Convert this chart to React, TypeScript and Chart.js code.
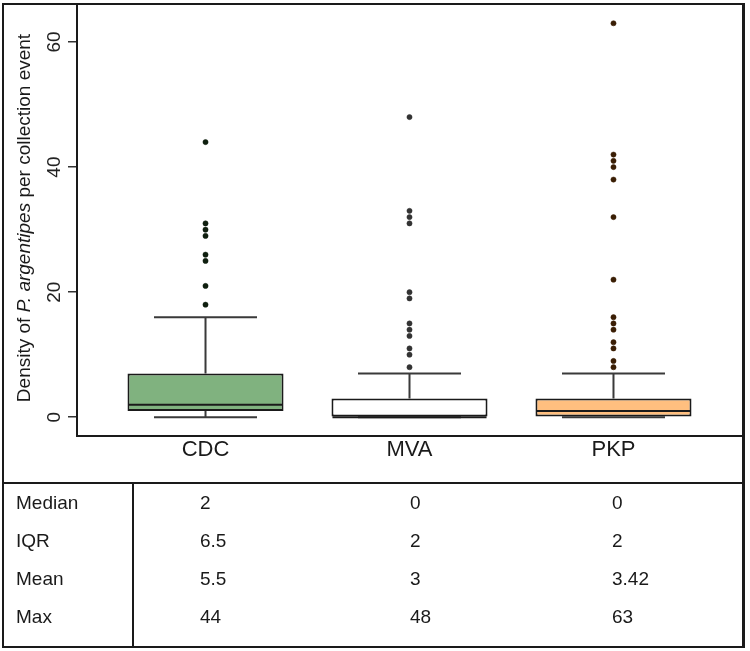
import React, { useEffect, useRef } from "react";
import { Chart, registerables } from "chart.js";

Chart.register(...registerables);

// ---- data ----
const categories = ["CDC", "MVA", "PKP"];
const categoryPos = [1, 2, 3];
const q1 = [1, 0, 0];
const q3 = [7, 3, 3];
const medians = [2, 0, 1];
const whiskerLow = [0, 0, 0];
const whiskerHigh = [16, 7, 7];
const outliersCDC = [18, 21, 25, 26, 29, 30, 31, 44];
const outliersMVA = [8, 10, 11, 13, 14, 15, 19, 20, 31, 32, 33, 48];
const outliersPKP = [8, 9, 11, 12, 14, 15, 16, 22, 32, 38, 40, 41, 42, 63];
const yTickValues = [0, 20, 40, 60];
const tableRowLabels = ["Median", "IQR", "Mean", "Max"];
const tableMedian = ["2", "0", "0"];
const tableIQR = ["6.5", "2", "2"];
const tableMean = ["5.5", "3", "3.42"];
const tableMax = ["44", "48", "63"];

const boxFills = ["#80b27f", "#ffffff", "#ffbf7f"];
const outlierColors = ["#0f1f0f", "#333333", "#3a1e05"];
const FONT = "'Liberation Sans', Arial, Helvetica, sans-serif";

const boxPlugin = {
  id: "boxWhiskers",
  beforeDatasetsDraw(chart: any) {
    const { ctx, scales } = chart;
    const x = scales.x;
    const y = scales.y;
    const meta = chart.getDatasetMeta(0);
    ctx.save();
    ctx.strokeStyle = "#3a3a3a";
    ctx.lineWidth = 2;
    categoryPos.forEach((cx, i) => {
      const bar = meta.data[i];
      const px = x.getPixelForValue(cx);
      const capHalf = bar.width * 0.33;
      const segs = [
        [q3[i], whiskerHigh[i]],
        [q1[i], whiskerLow[i]],
      ];
      for (const [a, b] of segs) {
        const ya = y.getPixelForValue(a);
        const yb = y.getPixelForValue(b);
        ctx.beginPath();
        ctx.moveTo(px, ya);
        ctx.lineTo(px, yb);
        ctx.moveTo(px - capHalf, yb);
        ctx.lineTo(px + capHalf, yb);
        ctx.stroke();
      }
    });
    ctx.restore();
  },
  afterDatasetsDraw(chart: any) {
    const { ctx, scales } = chart;
    const x = scales.x;
    const y = scales.y;
    const meta = chart.getDatasetMeta(0);
    ctx.save();
    ctx.strokeStyle = "#1a1a1a";
    ctx.lineWidth = 2;
    categoryPos.forEach((cx, i) => {
      const bar = meta.data[i];
      const px = x.getPixelForValue(cx);
      const half = bar.width / 2 - 1;
      const py = y.getPixelForValue(medians[i]);
      ctx.beginPath();
      ctx.moveTo(px - half, py);
      ctx.lineTo(px + half, py);
      ctx.stroke();
    });
    ctx.restore();
  },
  afterDraw(chart: any) {
    const { ctx, scales } = chart;
    const y = scales.y;
    ctx.save();
    // y tick labels, rotated
    ctx.fillStyle = "#222";
    ctx.font = `19px ${FONT}`;
    ctx.textAlign = "center";
    ctx.textBaseline = "middle";
    for (const v of yTickValues) {
      const py = y.getPixelForValue(v);
      ctx.save();
      ctx.translate(55, py);
      ctx.rotate(-Math.PI / 2);
      ctx.fillText(String(v), 0, 0);
      ctx.restore();
    }
    // y axis title with italic species name
    const parts = [
      { t: "Density of ", f: `19px ${FONT}` },
      { t: "P. argentipes", f: `italic 19px ${FONT}` },
      { t: " per collection event", f: `19px ${FONT}` },
    ];
    let total = 0;
    for (const p of parts) {
      ctx.font = p.f;
      total += ctx.measureText(p.t).width;
    }
    ctx.translate(25, 218);
    ctx.rotate(-Math.PI / 2);
    ctx.textAlign = "left";
    ctx.fillStyle = "#1a1a1a";
    let cur = -total / 2;
    for (const p of parts) {
      ctx.font = p.f;
      ctx.fillText(p.t, cur, 0);
      cur += ctx.measureText(p.t).width;
    }
    ctx.restore();
  },
};

function outlierData(values: number[], pos: number) {
  return values.map((v) => ({ x: pos, y: v }));
}

export default function App() {
  const canvasRef = useRef<HTMLCanvasElement | null>(null);

  useEffect(() => {
    if (!canvasRef.current) return;
    const chart = new Chart(canvasRef.current, {
      type: "bar",
      data: {
        datasets: [
          {
            type: "bar",
            data: categoryPos.map((p, i) => ({ x: p, y: [q1[i], q3[i]] })) as any,
            backgroundColor: boxFills,
            borderColor: "#1a1a1a",
            borderWidth: 2,
            borderSkipped: false,
            categoryPercentage: 1,
            barPercentage: 0.765,
            order: 3,
          } as any,
          {
            type: "scatter",
            data: outlierData(outliersCDC, categoryPos[0]),
            pointRadius: 2.6,
            pointBackgroundColor: outlierColors[0],
            pointBorderColor: outlierColors[0],
            pointBorderWidth: 0.5,
            order: 1,
          } as any,
          {
            type: "scatter",
            data: outlierData(outliersMVA, categoryPos[1]),
            pointRadius: 2.6,
            pointBackgroundColor: outlierColors[1],
            pointBorderColor: outlierColors[1],
            pointBorderWidth: 0.5,
            order: 1,
          } as any,
          {
            type: "scatter",
            data: outlierData(outliersPKP, categoryPos[2]),
            pointRadius: 2.6,
            pointBackgroundColor: outlierColors[2],
            pointBorderColor: outlierColors[2],
            pointBorderWidth: 0.5,
            order: 1,
          } as any,
        ],
      },
      options: {
        responsive: false,
        animation: false,
        layout: { padding: { left: 0, top: 4, right: 8, bottom: 0 } },
        plugins: {
          legend: { display: false },
          tooltip: { enabled: false },
        },
        scales: {
          x: {
            type: "linear",
            offset: false,
            min: 0.37,
            max: 3.63,
            grid: { display: false, drawTicks: false, tickLength: 0 },
            border: { display: true, color: "#1a1a1a", width: 2 },
            afterBuildTicks: (s: any) => {
              s.ticks = categoryPos.map((v) => ({ value: v }));
            },
            afterFit: (s: any) => {
              s.height = 44;
            },
            ticks: {
              padding: 1,
              color: "#1a1a1a",
              font: { family: FONT, size: 22 },
              callback: (v: any) => categories[categoryPos.indexOf(Number(v))] ?? "",
            },
          },
          y: {
            type: "linear",
            min: -3,
            max: 66,
            afterBuildTicks: (s: any) => {
              s.ticks = yTickValues.map((v) => ({ value: v }));
            },
            afterFit: (s: any) => {
              s.width = 77;
            },
            grid: {
              display: true,
              drawOnChartArea: false,
              drawTicks: true,
              tickLength: 9,
              color: "#333",
              lineWidth: 1.5,
            },
            border: { display: true, color: "#1a1a1a", width: 2 },
            ticks: { display: false },
          },
        },
      },
      plugins: [boxPlugin],
    } as any);
    return () => chart.destroy();
  }, []);

  const rows = [tableMedian, tableIQR, tableMean, tableMax];
  const colLeft = [200, 410, 612];
  const rowTop0 = 484;
  const rowH = 38;

  return (
    <div style={{ position: "relative", width: 750, height: 651, background: "#fff", fontFamily: FONT }}>
      <style>{"body{margin:0;}"}</style>
      <canvas
        ref={canvasRef}
        width={750}
        height={480}
        style={{ position: "absolute", left: 0, top: 0, width: 750, height: 480, display: "block" }}
      />
      {/* outer frame */}
      <div
        style={{
          position: "absolute",
          left: 2,
          top: 3,
          width: 743,
          height: 645,
          boxSizing: "border-box",
          borderLeft: "2px solid #1a1a1a",
          borderTop: "2px solid #1a1a1a",
          borderRight: "3px solid #1a1a1a",
          borderBottom: "2px solid #1a1a1a",
          pointerEvents: "none",
        }}
      />
      {/* table lines */}
      <div style={{ position: "absolute", left: 3, top: 482, width: 741, height: 2, background: "#1a1a1a" }} />
      <div style={{ position: "absolute", left: 132, top: 483, width: 2, height: 164, background: "#1a1a1a" }} />
      {tableRowLabels.map((lab, r) => (
        <React.Fragment key={lab}>
          <div
            style={{
              position: "absolute",
              left: 16,
              top: rowTop0 + r * rowH,
              height: rowH,
              lineHeight: `${rowH}px`,
              fontSize: 19,
              color: "#1a1a1a",
            }}
          >
            {lab}
          </div>
          {rows[r].map((val, c) => (
            <div
              key={c}
              style={{
                position: "absolute",
                left: colLeft[c],
                top: rowTop0 + r * rowH,
                height: rowH,
                lineHeight: `${rowH}px`,
                fontSize: 19,
                color: "#1a1a1a",
              }}
            >
              {val}
            </div>
          ))}
        </React.Fragment>
      ))}
    </div>
  );
}
